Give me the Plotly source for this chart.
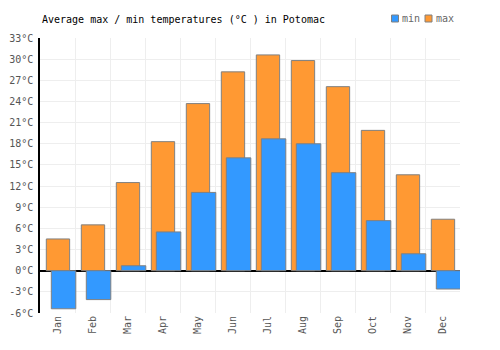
import plotly.graph_objects as go

months = ["Jan", "Feb", "Mar", "Apr", "May", "Jun", "Jul", "Aug", "Sep", "Oct", "Nov", "Dec"]
t_max = [4.5, 6.5, 12.5, 18.3, 23.7, 28.2, 30.6, 29.8, 26.1, 19.9, 13.6, 7.3]
t_min = [-5.4, -4.1, 0.7, 5.5, 11.1, 16.0, 18.7, 18.0, 13.9, 7.1, 2.4, -2.6]
y_ticks = list(range(-6, 34, 3))

FONT = "DejaVu Sans Mono"
ORANGE = "#FF9933"
BLUE = "#3399FF"
EDGE = "#808080"

fig = go.Figure()
fig.add_trace(go.Bar(
    x=months, y=t_max, name="max",
    marker=dict(color=ORANGE, line=dict(color=EDGE, width=1)),
    offset=-0.32, width=0.667, showlegend=False,
))
fig.add_trace(go.Bar(
    x=months, y=t_min, name="min",
    marker=dict(color=BLUE, line=dict(color=EDGE, width=1)),
    offset=-0.177, width=0.70, showlegend=False,
))

L, R, T, B = 40, 40, 38, 37
W, H = 500, 350
pw, ph = W - L - R, H - T - B

def px_x(p):
    return (p - L) / pw

def px_y(p):
    return (H - B - p) / ph

shapes = []
annotations = []
for sx, tx, col, label in [(391.5, 400, BLUE, "min"), (425, 434, ORANGE, "max")]:
    shapes.append(dict(type="rect", xref="paper", yref="paper",
                       x0=px_x(sx), x1=px_x(sx + 7), y0=px_y(22), y1=px_y(15),
                       fillcolor=col, line=dict(color=EDGE, width=1)))
    annotations.append(dict(xref="paper", yref="paper", x=px_x(tx), y=px_y(18.5),
                            xanchor="left", yanchor="middle", text=label, showarrow=False,
                            font=dict(family=FONT, size=10, color="#666666")))

annotations.append(dict(xref="paper", yref="paper", x=0, y=px_y(19),
                        xanchor="left", yanchor="middle", showarrow=False,
                        text="Average max / min temperatures (°C ) in Potomac",
                        font=dict(family=FONT, size=10, color="#000000")))

fig.update_layout(
    width=W, height=H,
    margin=dict(l=L, r=R, t=T, b=B, pad=0, autoexpand=False),
    barmode="overlay",
    plot_bgcolor="white", paper_bgcolor="white",
    font=dict(family=FONT, size=10, color="#555555"),
    shapes=shapes, annotations=annotations,
    xaxis=dict(type="category", categoryorder="array", categoryarray=months,
               tickson="boundaries", ticks="", showgrid=True, gridcolor="#eeeeee",
               gridwidth=1, tickangle=-90, showline=False, zeroline=False,
               automargin=False,
               tickfont=dict(family=FONT, size=10, color="#555555"),
               range=[-0.5, 11.5]),
    yaxis=dict(range=[-6, 33], tickvals=y_ticks, ticktext=[f"{v}°C" for v in y_ticks],
               showgrid=True, gridcolor="#eeeeee", gridwidth=1,
               zeroline=True, zerolinecolor="#000000", zerolinewidth=1.5,
               showline=True, linecolor="#000000", linewidth=1.5,
               layer="above traces", automargin=False,
               ticks="outside", ticklen=3, tickcolor="rgba(0,0,0,0)",
               tickfont=dict(family=FONT, size=10, color="#555555")),
)

fig.write_html("out.html")
